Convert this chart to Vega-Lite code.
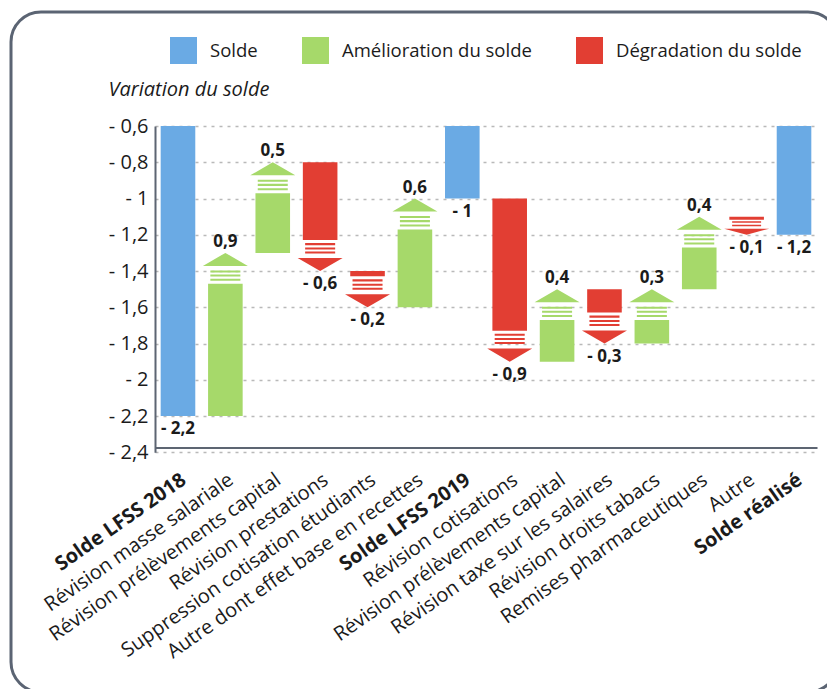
{
  "$schema": "https://vega.github.io/schema/vega-lite/v6.json",
  "width": 827,
  "height": 680,
  "autosize": {"type": "none"},
  "padding": {"left": 11, "top": 12, "right": 0, "bottom": 0},
  "background": "white",
  "config": {
    "font": "Open Sans",
    "view": {"stroke": "#5b6473", "strokeWidth": 3, "cornerRadius": 30, "fill": null}
  },
  "data": {
    "values": [
      {"poste": "Solde LFSS 2018", "kind": "Solde", "start": 0, "end": -2.2},
      {"poste": "Révision masse salariale", "kind": "Amélioration du solde", "start": -2.2, "end": -1.3},
      {"poste": "Révision prélèvements capital", "kind": "Amélioration du solde", "start": -1.3, "end": -0.8},
      {"poste": "Révision prestations", "kind": "Dégradation du solde", "start": -0.8, "end": -1.4},
      {"poste": "Suppression cotisation étudiants", "kind": "Dégradation du solde", "start": -1.4, "end": -1.6},
      {"poste": "Autre dont effet base en recettes", "kind": "Amélioration du solde", "start": -1.6, "end": -1.0},
      {"poste": "Solde LFSS 2019", "kind": "Solde", "start": 0, "end": -1.0},
      {"poste": "Révision cotisations", "kind": "Dégradation du solde", "start": -1.0, "end": -1.9},
      {"poste": "Révision prélèvements capital\u200b", "kind": "Amélioration du solde", "start": -1.9, "end": -1.5},
      {"poste": "Révision taxe sur les salaires", "kind": "Dégradation du solde", "start": -1.5, "end": -1.8},
      {"poste": "Révision droits tabacs", "kind": "Amélioration du solde", "start": -1.8, "end": -1.5},
      {"poste": "Remises pharmaceutiques", "kind": "Amélioration du solde", "start": -1.5, "end": -1.1},
      {"poste": "Autre", "kind": "Dégradation du solde", "start": -1.1, "end": -1.2},
      {"poste": "Solde réalisé", "kind": "Solde", "start": 0, "end": -1.2}
    ]
  },
  "transform": [
    {"calculate": "datum.kind == 'Solde' ? datum.end : datum.end - datum.start", "as": "v"},
    {"calculate": "datum.kind == 'Solde' ? 'none' : (abs(datum.v) < 0.15 ? 'small' : (datum.v > 0 ? 'up' : 'down'))", "as": "head"},
    {"calculate": "datum.head == 'none' ? datum.end : datum.end - (datum.v > 0 ? 1 : -1) * (datum.head == 'small' ? 0.083 : 0.171)", "as": "barEnd"},
    {"calculate": "(datum.v > 0 ? '' : '- ') + replace(format(abs(datum.v), '.1~f'), '.', ',')", "as": "lab"}
  ],
  "encoding": {
    "x": {
      "field": "poste",
      "type": "nominal",
      "sort": null,
      "scale": {"range": [144, 806], "paddingInner": 0.27, "paddingOuter": 0.12},
      "axis": {
        "title": null,
        "offset": -244.5,
        "domainColor": "#5d6572",
        "domainWidth": 2,
        "ticks": false,
        "grid": false,
        "labelAngle": -35,
        "labelAlign": "right",
        "labelBaseline": "middle",
        "labelPadding": 30,
        "labelOffset": 6,
        "labelFontSize": 20,
        "labelColor": "#1b1b1b",
        "labelLimit": 400,
        "labelOverlap": false,
        "labelFontWeight": {"condition": {"test": "indexof(datum.value, 'Solde') === 0", "value": "bold"}, "value": "normal"}
      }
    }
  },
  "layer": [
    {
      "mark": {"type": "bar"},
      "encoding": {
        "y": {
          "field": "start",
          "type": "quantitative",
          "scale": {"domain": [-2.4, -0.6], "range": [440.25, 114], "clamp": true, "nice": false, "zero": false},
          "axis": {
            "values": [-0.6, -0.8, -1, -1.2, -1.4, -1.6, -1.8, -2, -2.2, -2.4],
            "labelExpr": "'- ' + replace(format(abs(datum.value), '.1~f'), '.', ',')",
            "offset": -144,
            "grid": true,
            "gridColor": "#b9b9b9",
            "gridDash": [3, 5],
            "gridWidth": 1.5,
            "ticks": false,
            "domainColor": "#5d6572",
            "domainWidth": 2,
            "labelFontSize": 20,
            "labelColor": "#1b1b1b",
            "labelPadding": 7,
            "title": "Variation du solde",
            "titleAngle": 0,
            "titleAlign": "left",
            "titleBaseline": "alphabetic",
            "titleX": -47,
            "titleY": 83,
            "titleFontSize": 20,
            "titleFontStyle": "italic",
            "titleFontWeight": "normal",
            "titleColor": "#1b1b1b"
          }
        },
        "y2": {"field": "barEnd"},
        "color": {
          "field": "kind",
          "type": "nominal",
          "scale": {"domain": ["Solde", "Amélioration du solde", "Dégradation du solde"], "range": ["#6aaae4", "#a6d96a", "#e23e33"]},
          "legend": {
            "orient": "none",
            "legendX": 159,
            "legendY": 25,
            "direction": "horizontal",
            "title": null,
            "symbolType": "square",
            "symbolSize": 729,
            "symbolStrokeWidth": 0,
            "labelFontSize": 18.5,
            "labelColor": "#1b1b1b",
            "labelOffset": 13,
            "columnPadding": 44,
            "labelLimit": 400
          }
        }
      }
    },
    {
      "transform": [{"filter": "datum.head != 'none'"}],
      "mark": {"type": "point", "filled": true, "opacity": 1, "size": 2025, "strokeWidth": 0},
      "encoding": {
        "y": {"field": "end", "type": "quantitative"},
        "shape": {
          "field": "head",
          "type": "nominal",
          "scale": {
            "domain": ["up", "down", "small"],
            "range": [
              "M0,0L1,0.58L-1,0.58Z M-0.667,0.78H0.667V0.87H-0.667Z M-0.667,0.96H0.667V1.05H-0.667Z M-0.667,1.15H0.667V1.24H-0.667Z",
              "M0,0L1,-0.58L-1,-0.58Z M-0.667,-0.78H0.667V-0.87H-0.667Z M-0.667,-0.96H0.667V-1.05H-0.667Z M-0.667,-1.15H0.667V-1.24H-0.667Z",
              "M0,0L1,-0.27L-1,-0.27Z M-0.644,-0.38H0.644V-0.45H-0.644Z M-0.644,-0.53H0.644V-0.6H-0.644Z"
            ]
          },
          "legend": null
        },
        "color": {"field": "kind", "type": "nominal"}
      }
    },
    {
      "transform": [{"filter": "datum.v > 0"}],
      "mark": {"type": "text", "baseline": "alphabetic", "dy": -6, "fontSize": 17, "fontWeight": "bold", "color": "#1b1b1b"},
      "encoding": {
        "y": {"field": "end", "type": "quantitative"},
        "text": {"field": "lab"}
      }
    },
    {
      "transform": [{"filter": "datum.v <= 0"}],
      "mark": {"type": "text", "baseline": "top", "dy": 5, "fontSize": 17, "fontWeight": "bold", "color": "#1b1b1b"},
      "encoding": {
        "y": {"field": "end", "type": "quantitative"},
        "text": {"field": "lab"}
      }
    }
  ]
}
